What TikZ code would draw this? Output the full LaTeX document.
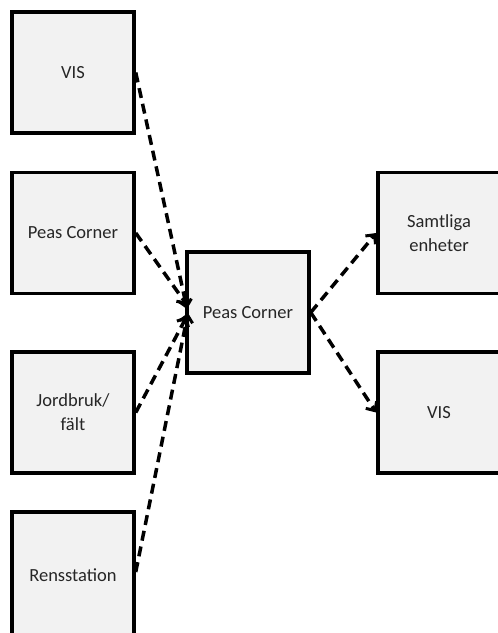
\documentclass[tikz,border=0pt]{standalone}
\usepackage{fontspec}
\setmainfont{Carlito}
\usetikzlibrary{arrows.meta}
\begin{document}
\begin{tikzpicture}[x=1pt,y=-1pt,
  box/.style={draw=black,line width=3.5pt,fill=black!5,minimum width=122pt,minimum height=121pt,
    inner sep=0pt,align=center,font=\fontsize{18.5}{24}\selectfont,text=black!85},
  flow/.style={line width=3.5pt,dash pattern=on 10pt off 6pt,-{Straight Barb[length=7pt,width=13pt,line width=3pt]}}]
\useasboundingbox (0,0) rectangle (498,633);
\begin{scope}
\clip (0,0) rectangle (498,633);
\node[box] (vis1) at (73,72.5) {VIS};
\node[box] (pc1) at (73,233) {Peas Corner};
\node[box] (jord) at (73,412.5) {Jordbruk/\\fält};
\node[box,minimum height=126pt] (rens) at (73,575) {Rensstation};
\node[box] (pc) at (248,312.5) {Peas Corner};
\node[box] (samt) at (439,233) {Samtliga\\enheter};
\node[box] (vis2) at (439,412.5) {VIS};
\end{scope}
\coordinate (t1) at (187,309);
\coordinate (t2) at (187,305);
\coordinate (t3) at (187,316);
\coordinate (t4) at (188,313);
\draw[flow] (vis1.east) -- (t1);
\draw[flow] (pc1.east) -- (t2);
\draw[flow] (jord.east) -- (t3);
\draw[flow] (rens.east) ++(0,-3) -- (t4);
\draw[flow] (pc.east) -- (samt.west);
\draw[flow] (pc.east) -- (vis2.west);
\end{tikzpicture}
\end{document}
